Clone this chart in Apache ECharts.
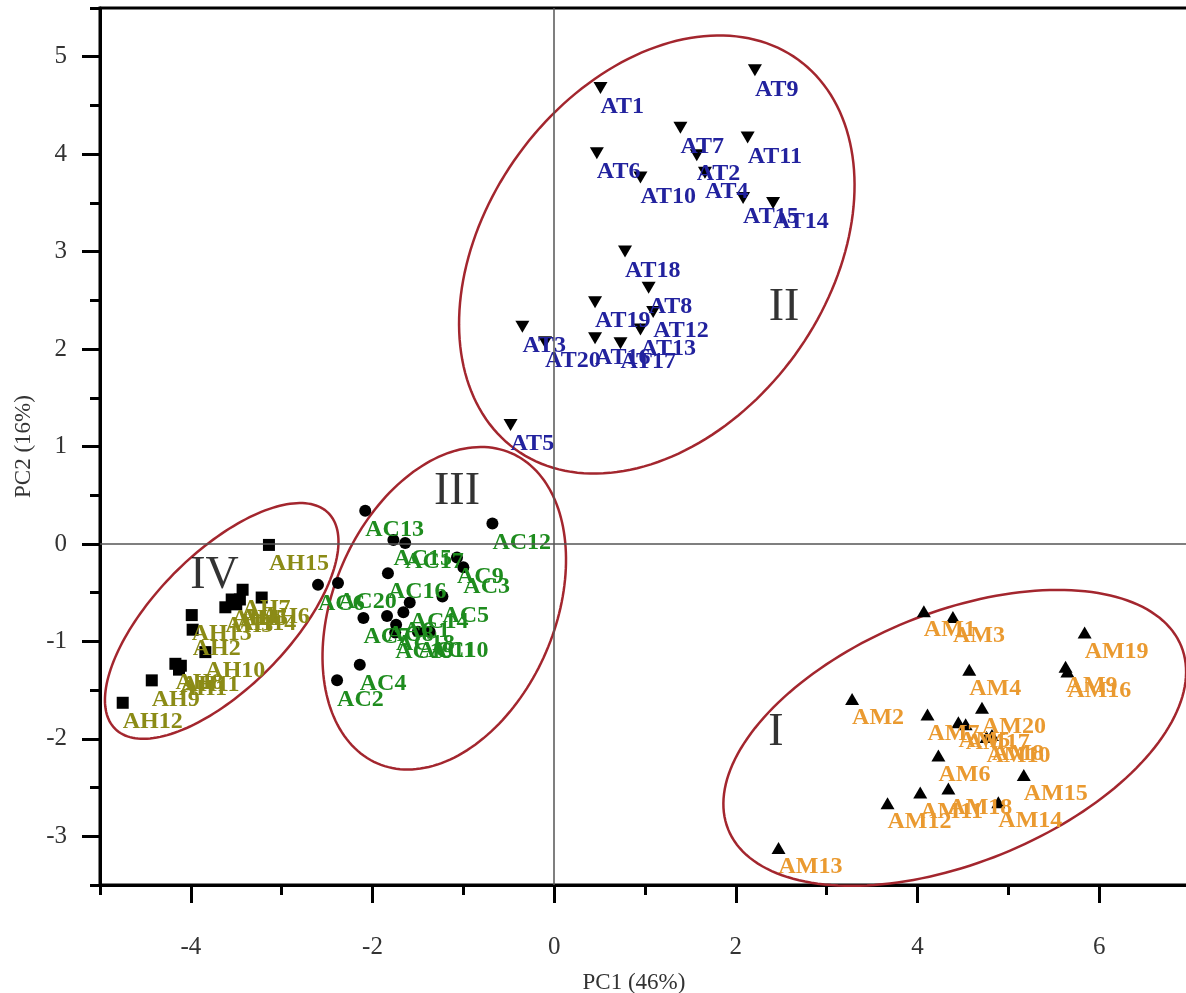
<!DOCTYPE html>
<html><head><meta charset="utf-8">
<script src="https://cdn.jsdelivr.net/npm/echarts@6/dist/echarts.min.js"></script>
<style>html,body{margin:0;padding:0;overflow:hidden;background:#fff}#c{width:1191px;height:993px}</style>
</head><body><div id="c"></div>
<script>
// ---- Group II: AT (down triangles)
const atNames = ['AT1','AT2','AT3','AT4','AT5','AT6','AT7','AT8','AT9','AT10','AT11','AT12','AT13','AT14','AT15','AT16','AT17','AT18','AT19','AT20'];
const atX = [0.51,1.57,-0.35,1.66,-0.48,0.47,1.39,1.04,2.21,0.95,2.13,1.09,0.95,2.41,2.08,0.45,0.73,0.78,0.45,-0.10];
const atY = [4.68,3.99,2.23,3.81,1.22,4.01,4.27,2.63,4.86,3.76,4.17,2.38,2.20,3.50,3.55,2.11,2.06,3.00,2.48,2.07];
// ---- Group III: AC (circles)
const acNames = ['AC1','AC2','AC3','AC4','AC5','AC6','AC7','AC8','AC9','AC10','AC11','AC12','AC13','AC14','AC15','AC16','AC17','AC18','AC19','AC20'];
const acX = [-1.66,-2.39,-1.00,-2.14,-1.23,-2.60,-2.10,-1.84,-1.07,-1.37,-1.50,-0.68,-2.08,-1.59,-1.77,-1.83,-1.64,-1.74,-1.75,-2.38];
const acY = [-0.70,-1.40,-0.24,-1.24,-0.54,-0.42,-0.76,-0.74,-0.14,-0.90,-0.90,0.21,0.34,-0.60,0.04,-0.30,0.01,-0.83,-0.91,-0.40];
// ---- Group IV: AH (squares)
const ahNames = ['AH1','AH2','AH3','AH4','AH5','AH6','AH7','AH8','AH9','AH10','AH11','AH12','AH13','AH14','AH15'];
const ahX = [-4.13,-3.98,-3.62,-3.55,-3.46,-3.22,-3.43,-4.17,-4.43,-3.84,-4.11,-4.75,-3.99,-3.50,-3.14];
const ahY = [-1.29,-0.88,-0.65,-0.57,-0.57,-0.55,-0.47,-1.23,-1.40,-1.11,-1.25,-1.63,-0.73,-0.62,-0.01];
// ---- Group I: AM (up triangles)
const amNames = ['AM1','AM2','AM3','AM4','AM5','AM6','AM7','AM8','AM9','AM10','AM11','AM12','AM13','AM14','AM15','AM16','AM17','AM18','AM19','AM20'];
const amX = [4.07,3.28,4.39,4.57,4.45,4.23,4.11,4.82,5.63,4.76,4.03,3.67,2.47,4.89,5.17,5.65,4.53,4.34,5.84,4.71];
const amY = [-0.69,-1.59,-0.75,-1.29,-1.83,-2.17,-1.75,-1.96,-1.26,-1.98,-2.55,-2.66,-3.12,-2.65,-2.37,-1.31,-1.85,-2.51,-0.91,-1.68];
// ---- Cluster ellipses (centre in data units, semi-axes in PC1 units, tilt in degrees)
const ellipseNames = ['I','II','III','IV'];
const ellipseCX = [4.41, 1.13, -1.21, -3.66];
const ellipseCY = [-1.99, 2.97, -0.66, -0.79];
const ellipseA = [2.69, 2.65, 1.86, 1.67];
const ellipseB = [1.38, 1.88, 1.22, 0.74];
const ellipseAngle = [22, 54, 66.7, 45.4];
// ---- Cluster labels
const regionNames = ['I','II','III','IV'];
const regionX = [2.44, 2.53, -1.07, -3.74];
const regionY = [-1.94, 2.42, 0.53, -0.33];
// ---- Axes
const xMin = -5, xMax = 7, yMin = -3.5, yMax = 5.5;

const FONT = '"Liberation Serif","Times New Roman",serif';
const chart = echarts.init(document.getElementById('c'), null, {renderer:'canvas'});

function pts(names, xs, ys){ return names.map((n,i)=>({name:n, value:[xs[i], ys[i]]})); }
function group(names, xs, ys, symbol, size, color){
  return {
    type:'scatter', xAxisIndex:0, yAxisIndex:0, symbol, symbolSize:size,
    itemStyle:{color:'#000', opacity:1},
    data: pts(names, xs, ys),
    label:{show:true, formatter:'{b}', position:'bottom', distance:1, align:'left',
      color, fontFamily:FONT, fontWeight:'bold', fontSize:24},
    emphasis:{disabled:true}, silent:true, z:3
  };
}

const option = {
  animation:false,
  backgroundColor:'#fff',
  grid:{left:100, right:1, top:8, bottom:108, containLabel:false, outerBoundsMode:'none',
    show:true, borderColor:'#000', borderWidth:3, backgroundColor:'transparent'},
  xAxis:[{
    type:'value', min:xMin, max:xMax, splitNumber:6, position:'bottom',
    axisLine:{show:true, onZero:false, lineStyle:{color:'#000', width:3}},
    axisTick:{show:true, inside:false, length:18, lineStyle:{color:'#000', width:3}},
    axisLabel:{show:true, margin:50, showMinLabel:false, showMaxLabel:false, color:'#333', fontFamily:FONT, fontSize:25},
    splitLine:{show:false},
    name:'PC1 (46%)', nameLocation:'middle', nameGap:86,
    nameTextStyle:{color:'#333', fontFamily:FONT, fontSize:23, padding:[0,22,0,0]}
  },{
    type:'value', min:xMin, max:xMax, interval:1, position:'bottom',
    axisLine:{show:false, onZero:false}, axisTick:{show:true, length:10, lineStyle:{color:'#000', width:3}},
    axisLabel:{show:false}, splitLine:{show:false}
  }],
  yAxis:[{
    type:'value', min:yMin, max:yMax, splitNumber:9, position:'left',
    axisLine:{show:true, onZero:false, lineStyle:{color:'#000', width:3}},
    axisTick:{show:true, inside:false, length:18, lineStyle:{color:'#000', width:3}},
    axisLabel:{show:true, margin:33, showMinLabel:false, showMaxLabel:false, color:'#333', fontFamily:FONT, fontSize:25},
    splitLine:{show:false},
    name:'PC2 (16%)', nameLocation:'middle', nameGap:62,
    nameTextStyle:{color:'#333', fontFamily:FONT, fontSize:23}
  },{
    type:'value', min:yMin, max:yMax, interval:0.5, position:'left',
    axisLine:{show:false, onZero:false}, axisTick:{show:true, length:10, lineStyle:{color:'#000', width:3}},
    axisLabel:{show:false}, splitLine:{show:false}
  }],
  series:[
    {
      type:'custom', coordinateSystem:'cartesian2d', xAxisIndex:0, yAxisIndex:0, silent:true, z:1,
      data: ellipseCX.map((cx,i)=>({name:ellipseNames[i], value:[cx, ellipseCY[i], ellipseA[i], ellipseB[i], ellipseAngle[i]]})),
      encode:{x:0, y:1},
      renderItem:function(params, api){
        const c = api.coord([api.value(0), api.value(1)]);
        const s = api.size([1,1]);
        const a = api.value(2)*s[0], b = api.value(3)*s[0];
        const th = api.value(4)*Math.PI/180;
        const p = [];
        for(let k=0;k<=180;k++){
          const t = k/180*2*Math.PI;
          p.push([c[0] + a*Math.cos(t)*Math.cos(th) - b*Math.sin(t)*Math.sin(th),
                  c[1] - (a*Math.cos(t)*Math.sin(th) + b*Math.sin(t)*Math.cos(th))]);
        }
        return {type:'polygon', shape:{points:p}, style:{fill:'none', stroke:'#a3262e', lineWidth:2.5}};
      }
    },
    {
      type:'scatter', xAxisIndex:0, yAxisIndex:0, symbolSize:1, silent:true, z:2,
      itemStyle:{color:'transparent'},
      data: regionNames.map((n,i)=>({name:n, value:[regionX[i], regionY[i]]})),
      label:{show:true, position:'inside', formatter:'{b}', fontFamily:FONT, fontSize:46, color:'#000', textBorderWidth:0},
      markLine:{silent:true, symbol:'none', label:{show:false},
        lineStyle:{color:'#555', width:1.5, type:'solid'},
        data:[{xAxis:0},{yAxis:0}]}
    },
    group(atNames, atX, atY, 'path://M0,0L14,0L7,12Z', [14,12], '#22229e'),
    group(acNames, acX, acY, 'circle', 12, '#1e8c1e'),
    group(ahNames, ahX, ahY, 'rect', 12, '#8b8b16'),
    group(amNames, amX, amY, 'triangle', [14,12], '#ea9a30')
  ]
};
chart.setOption(option);
</script>
</body></html>
